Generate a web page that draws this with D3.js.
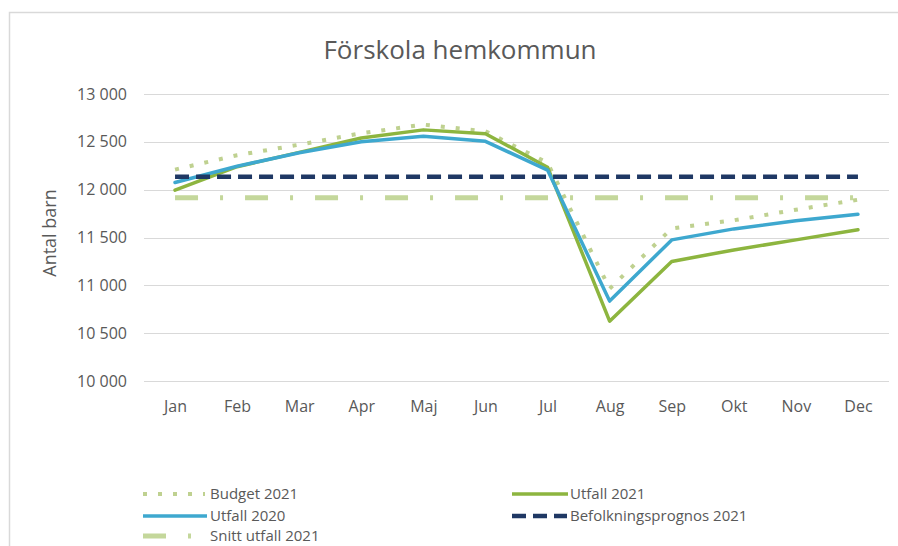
<!DOCTYPE html>
<html>
<head>
<meta charset="utf-8">
<script src="https://cdn.jsdelivr.net/npm/d3@7"></script>
<style>
  html, body { margin: 0; padding: 0; background: #ffffff; }
  svg { display: block; font-family: "Open Sans", "Noto Sans", sans-serif; }
</style>
</head>
<body>
<svg id="chart" width="898" height="546"></svg>
<script>
// ---- data ----
const months = ["Jan","Feb","Mar","Apr","Maj","Jun","Jul","Aug","Sep","Okt","Nov","Dec"];
const budget2021 = [12210, 12360, 12470, 12590, 12680, 12610, 12280, 10965, 11595, 11680, 11790, 11895];
const utfall2021 = [11995, 12240, 12390, 12540, 12625, 12585, 12235, 10625, 11250, 11370, 11475, 11580];
const utfall2020 = [12075, 12245, 12385, 12500, 12558, 12505, 12205, 10835, 11475, 11590, 11675, 11742];
const befolkning2021 = [12135, 12135, 12135, 12135, 12135, 12135, 12135, 12135, 12135, 12135, 12135, 12135];
const snitt2021 = [11915, 11915, 11915, 11915, 11915, 11915, 11915, 11915, 11915, 11915, 11915, 11915];
const yTicks = [10000, 10500, 11000, 11500, 12000, 12500, 13000];
const titleText = "Förskola hemkommun";
const yTitle = "Antal barn";

const series = [
  { name: "Budget 2021", values: budget2021, color: "#bfd190", width: 4, dash: "4 11", cap: "butt" },
  { name: "Utfall 2021", values: utfall2021, color: "#8db53f", width: 3.5, dash: null, cap: "round" },
  { name: "Utfall 2020", values: utfall2020, color: "#3ea8cf", width: 3.5, dash: null, cap: "round" },
  { name: "Befolkningsprognos 2021", values: befolkning2021, color: "#1f3864", width: 4.5, dash: "14 7", cap: "butt" },
  { name: "Snitt utfall 2021", values: snitt2021, color: "#c4d79b", width: 5, dash: "23 22 3 22", cap: "butt" }
];

const svg = d3.select("#chart");
const textColor = "#595959";

// frame
svg.append("rect").attr("x", 9.5).attr("y", 12.5).attr("width", 900).attr("height", 560)
  .attr("fill", "#fff").attr("stroke", "#d9d9d9").attr("stroke-width", 1.5);

const x = d3.scalePoint().domain(months).range([144, 889]).padding(0.5);
const y = d3.scaleLinear().domain([10000, 13000]).range([381, 94]);

// gridlines
svg.append("g").selectAll("line").data(yTicks).join("line")
  .attr("x1", 144).attr("x2", 889)
  .attr("y1", d => Math.round(y(d)) + 0.5).attr("y2", d => Math.round(y(d)) + 0.5)
  .attr("stroke", "#d9d9d9").attr("stroke-width", 1);

// y axis
const fmt = d => d3.format(",")(d).replace(",", " ");
const yAxis = svg.append("g").attr("transform", "translate(131,0)")
  .call(d3.axisLeft(y).tickValues(yTicks).tickFormat(fmt).tickSize(0).tickPadding(4));
yAxis.select(".domain").remove();
yAxis.selectAll("text").attr("fill", textColor).attr("font-size", 16)
  .style("font-family", "'Open Sans', sans-serif");

// x axis
const xAxis = svg.append("g").attr("transform", "translate(0,397)")
  .call(d3.axisBottom(x).tickSize(0).tickPadding(4));
xAxis.select(".domain").remove();
xAxis.selectAll("text").attr("fill", textColor).attr("font-size", 16)
  .style("font-family", "'Open Sans', sans-serif");

// y title
svg.append("text").attr("transform", "translate(56,233) rotate(-90)")
  .attr("text-anchor", "middle").attr("fill", textColor).attr("font-size", 18)
  .text(yTitle);

// title
svg.append("text").attr("x", 460).attr("y", 59).attr("text-anchor", "middle")
  .attr("fill", textColor).attr("font-size", 26).text(titleText);

// lines
const line = d3.line().x((d, i) => x(months[i])).y(d => y(d));
svg.append("g").selectAll("path").data(series).join("path")
  .attr("d", d => line(d.values))
  .attr("fill", "none")
  .attr("stroke", d => d.color)
  .attr("stroke-width", d => d.width)
  .attr("stroke-dasharray", d => d.dash)
  .attr("stroke-linecap", d => d.cap)
  .attr("stroke-linejoin", "round");

// legend
const legendPos = [
  { sx: 143, sw: 62, tx: 210, y: 494 },
  { sx: 512, sw: 56, tx: 570, y: 494 },
  { sx: 143, sw: 64, tx: 210, y: 516 },
  { sx: 512, sw: 55, tx: 570, y: 516 },
  { sx: 143, sw: 62, tx: 210, y: 536 }
];
const leg = svg.append("g").selectAll("g").data(series).join("g");
leg.append("line")
  .attr("x1", (d, i) => legendPos[i].sx).attr("x2", (d, i) => legendPos[i].sx + legendPos[i].sw)
  .attr("y1", (d, i) => legendPos[i].y).attr("y2", (d, i) => legendPos[i].y)
  .attr("stroke", d => d.color).attr("stroke-width", d => d.width)
  .attr("stroke-dasharray", d => d.dash).attr("stroke-linecap", "butt");
leg.append("text")
  .attr("x", (d, i) => legendPos[i].tx).attr("y", (d, i) => legendPos[i].y)
  .attr("dy", "0.35em").attr("fill", textColor).attr("font-size", 15)
  .text(d => d.name);
</script>
</body>
</html>
